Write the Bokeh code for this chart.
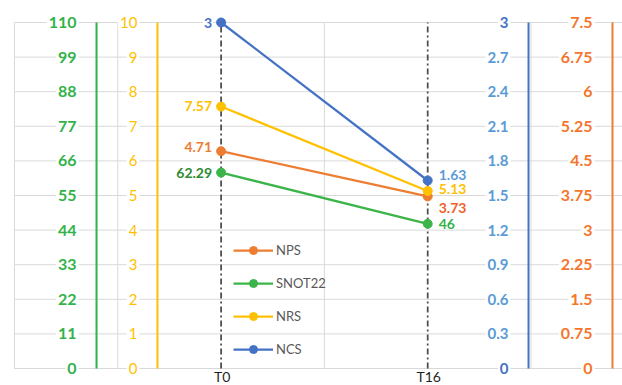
from bokeh.plotting import figure
from bokeh.models import Range1d, ColumnDataSource, Legend, LegendItem
from bokeh.core.properties import value
from bokeh.embed import file_html
from bokeh.resources import INLINE

# ---------------- data ----------------
categories = ["T0", "T16"]
series_names = ["NPS", "SNOT22", "NRS", "NCS"]
nps = [4.71, 3.73]
snot22 = [62.29, 46]
nrs = [7.57, 5.13]
ncs = [3, 1.63]

green_tick_labels = ["0", "11", "22", "33", "44", "55", "66", "77", "88", "99", "110"]
yellow_tick_labels = ["0", "1", "2", "3", "4", "5", "6", "7", "8", "9", "10"]
blue_tick_labels = ["0", "0.3", "0.6", "0.9", "1.2", "1.5", "1.8", "2.1", "2.4", "2.7", "3"]
orange_tick_labels = ["0", "0.75", "1.5", "2.25", "3", "3.75", "4.5", "5.25", "6", "6.75", "7.5"]

# ---------------- layout / style ----------------
W, H = 622, 385
PX_PER_UNIT = 103.3
X_START = -14 / PX_PER_UNIT
PLOT_TOP, PLOT_BOTTOM = 22, 368
span = PLOT_BOTTOM - PLOT_TOP
LO = -(H - PLOT_BOTTOM) / span
HI = 1 + PLOT_TOP / span

green_max = float(green_tick_labels[-1])
yellow_max = float(yellow_tick_labels[-1])
blue_max = float(blue_tick_labels[-1])
orange_max = float(orange_tick_labels[-1])

cat_x = [2 + 2 * i for i in range(len(categories))]

p = figure(width=W, height=H, output_backend="svg", toolbar_location=None,
           x_range=Range1d(X_START, X_START + W / PX_PER_UNIT),
           y_range=Range1d(LO * green_max, HI * green_max),
           x_axis_location=None, y_axis_location=None, min_border=0,
           outline_line_color=None, background_fill_color="white",
           border_fill_color="white")
p.grid.visible = False
p.extra_y_ranges = {
    "yellow": Range1d(LO * yellow_max, HI * yellow_max),
    "blue": Range1d(LO * blue_max, HI * blue_max),
    "orange": Range1d(LO * orange_max, HI * orange_max),
}

GRID = "#d9d9d9"
green_ticks = [float(t) for t in green_tick_labels]
x_end = X_START + W / PX_PER_UNIT
# horizontal gridlines
p.segment(x0=[0] * len(green_ticks), x1=[x_end] * len(green_ticks),
          y0=green_ticks, y1=green_ticks, line_color=GRID, line_width=1)
# vertical gridlines
vgrid = [0, 1, 3, 5]
p.segment(x0=vgrid, x1=vgrid, y0=[0] * len(vgrid), y1=[green_max] * len(vgrid),
          line_color=GRID, line_width=1)

# dash-dot category lines
p.segment(x0=cat_x, x1=cat_x, y0=[0, 0], y1=[green_max, green_max],
          line_color="#4d4d4d", line_width=1.75, line_dash="6 3 2 3")

# value axes (line + labels)
axes = [
    (green_tick_labels, "default", 0.794, "#2DB34A", ["#33B34A"] * 11, "bold", "16px"),
    (yellow_tick_labels, "yellow", 1.384, "#FFC000", ["#FFC000"] * 11, "normal", "15px"),
    (blue_tick_labels, "blue", 4.976, "#4472C4",
     ["#4472C4"] + ["#5B9BD5"] * 9 + ["#4472C4"], "bold", "15px"),
    (orange_tick_labels, "orange", 5.789, "#ED7D31", ["#F4762D"] * 11, "bold", "16px"),
]
for labels, rn, ax, lc, tcol, style, fsize in axes:
    vals = [float(t) for t in labels]
    vmax = vals[-1]
    p.segment(x0=[ax], x1=[ax], y0=[0], y1=[vmax], line_color=lc, line_width=2,
              y_range_name=rn)
    src = ColumnDataSource(dict(x=[ax] * len(vals), y=vals, t=labels, c=tcol))
    p.text(x="x", y="y", text="t", source=src, y_range_name=rn,
           x_offset=-18, text_align="right", text_baseline="middle",
           text_font=value("Lato"), text_font_size=fsize, text_font_style=style,
           text_color="c", background_fill_color="white", padding=2)

# series
series = [
    ("NPS", nps, "orange", "#ED7D31", ["#ED7D31", "#F0602A"], [-4, 12]),
    ("SNOT22", snot22, "default", "#3BB44A", ["#2E8B30", "#33B24A"], [0, 0]),
    ("NRS", nrs, "yellow", "#FFC000", ["#FFC000", "#FFC000"], [-1, -2]),
    ("NCS", ncs, "blue", "#4472C4", ["#4472C4", "#5B9BD5"], [0, -6]),
]
items = {}
for name, vals, rn, col, lab_cols, yoffs in series:
    lr = p.line(cat_x, vals, y_range_name=rn, line_color=col, line_width=2.25)
    sr = p.scatter(cat_x, vals, y_range_name=rn, size=9, fill_color=col,
                   line_color=col)
    items[name] = [lr, sr]
    labels = [f"{v:g}" for v in vals]
    p.text(x=[cat_x[0]], y=[vals[0]], text=[labels[0]], y_range_name=rn,
           x_offset=-8, y_offset=yoffs[0], text_align="right", text_baseline="middle",
           text_font=value("Lato"), text_font_size="14px", text_font_style="bold",
           text_color=lab_cols[0], background_fill_color="white", padding=1)
    p.text(x=[cat_x[1]], y=[vals[1]], text=[labels[1]], y_range_name=rn,
           x_offset=11, y_offset=yoffs[1], text_align="left", text_baseline="middle",
           text_font=value("Lato"), text_font_size="14px", text_font_style="bold",
           text_color=lab_cols[1])

# category labels (kept fully inside the canvas)
p.text(x=cat_x, y=[0, 0], text=categories, x_offset=1, y_offset=16,
       text_align="center", text_baseline="bottom", text_font=value("Lato"),
       text_font_size="14px", text_color="#1f1f1f")

legend = Legend(items=[LegendItem(label=n, renderers=items[n]) for n in series_names],
                location=(233, 26), orientation="vertical", padding=0, margin=0,
                spacing=13, glyph_width=40, glyph_height=20, label_height=20,
                label_standoff=3, label_text_font="Lato", label_text_font_size="13px",
                label_text_color="#595959", border_line_color=None,
                background_fill_alpha=0)
p.add_layout(legend)

open("out.html", "w").write(file_html(p, INLINE))
